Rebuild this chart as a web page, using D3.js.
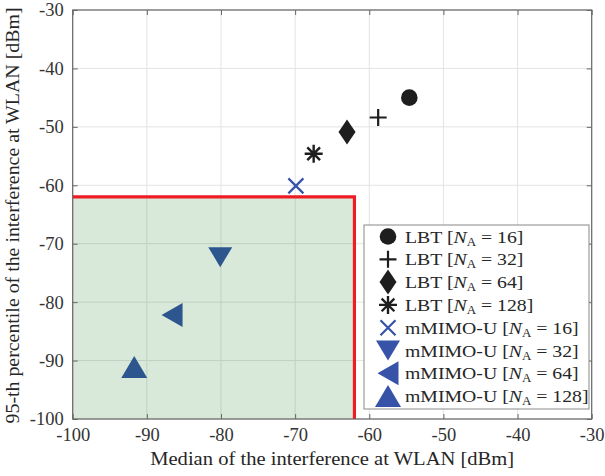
<!DOCTYPE html>
<html><head><meta charset="utf-8">
<script src="https://cdn.jsdelivr.net/npm/d3@7"></script>
<style>body{margin:0;background:#fff}svg{display:block}
svg text, .tick text{font-family:"Liberation Serif",serif !important;}
</style>
</head><body><svg id="c" width="605" height="476"></svg>
<script>
const xTicks=[-100,-90,-80,-70,-60,-50,-40,-30];
const yTicks=[-100,-90,-80,-70,-60,-50,-40,-30];
const labels=["LBT","LBT","LBT","LBT","mMIMO-U","mMIMO-U","mMIMO-U","mMIMO-U"];
const antennas=[16,32,64,128,16,32,64,128];
const markers=["circle","plus","diamond","asterisk","cross","down","left","up"];
const xVals=[-54.6,-58.8,-63.0,-67.5,-69.9,-80.1,-86.6,-91.7];
const yVals=[-45.0,-48.4,-50.9,-54.6,-60.1,-72.3,-82.2,-91.1];
const region=[-62,-62];

const FONT='"Liberation Serif",serif';
const svg=d3.select("#c");
const L=72.7,R=591.7,T=10,B=419;
const x=d3.scaleLinear().domain([-100,-30]).range([L,R]);
const y=d3.scaleLinear().domain([-100,-30]).range([B,T]);

const black="#1e1e1e", blue="#3653a8";
function markerPath(t){
  switch(t){
    case "circle": return {d:d3.symbol(d3.symbolCircle,Math.PI*8.3*8.3)(),fill:black};
    case "plus": return {d:"M-8.5,0H8.5M0,-8.5V8.5",stroke:black,sw:2.2};
    case "diamond": return {d:"M0,-12.5L8.5,0L0,12.5L-8.5,0Z",fill:black};
    case "asterisk": {const r=9;let p="";for(let i=0;i<4;i++){const a=i*Math.PI/4+Math.PI/2;p+=`M${(-r*Math.cos(a)).toFixed(2)},${(-r*Math.sin(a)).toFixed(2)}L${(r*Math.cos(a)).toFixed(2)},${(r*Math.sin(a)).toFixed(2)}`;}return {d:p,stroke:black,sw:2.4};}
    case "cross": return {d:"M-7.5,-7.5L7.5,7.5M-7.5,7.5L7.5,-7.5",stroke:blue,sw:2.2};
    case "down": return {d:"M-12,-10L12,-10L0,10Z",fill:blue};
    case "left": return {d:"M10.5,-12L10.5,12L-10.5,0Z",fill:blue};
    case "up": return {d:"M-13,11L13,11L0,-11Z",fill:blue};
  }
}
function drawMarker(g,t,cx,cy){
  const m=markerPath(t);
  g.append("path").attr("d",m.d).attr("transform",`translate(${cx},${cy})`)
   .attr("fill",m.fill||"none").attr("stroke",m.stroke||"none").attr("stroke-width",m.sw||0);
}

// grid
const grid=svg.append("g");
xTicks.forEach(v=>grid.append("line").attr("x1",x(v)).attr("x2",x(v)).attr("y1",T).attr("y2",B).attr("stroke","#e3e3e3").attr("stroke-width",1));
yTicks.forEach(v=>grid.append("line").attr("y1",y(v)).attr("y2",y(v)).attr("x1",L).attr("x2",R).attr("stroke","#e3e3e3").attr("stroke-width",1));

// markers
const pts=svg.append("g");
xVals.forEach((v,i)=>drawMarker(pts,markers[i],x(v),y(yVals[i])));

// green region overlay
svg.append("rect").attr("x",x(-100)).attr("y",y(region[1])).attr("width",x(region[0])-x(-100)).attr("height",y(-100)-y(region[1]))
  .attr("fill","rgb(0,105,0)").attr("fill-opacity",0.15);
svg.append("path").attr("d",`M${x(-100)},${y(region[1])}H${x(region[0])}V${y(-100)}`)
  .attr("fill","none").attr("stroke","#ee1c24").attr("stroke-width",3.2);

// axes box with inward ticks
const ax=svg.append("g");
ax.append("rect").attr("x",L).attr("y",T).attr("width",R-L).attr("height",B-T).attr("fill","none").attr("stroke","#666").attr("stroke-width",1.2);
const bottomAxis=d3.axisBottom(x).tickValues(xTicks).tickSize(-5).tickFormat(d=>String(d)).tickPadding(9);
const topAxis=d3.axisTop(x).tickValues(xTicks).tickSize(-5).tickFormat("");
const leftAxis=d3.axisLeft(y).tickValues(yTicks).tickSize(-5).tickFormat(d=>String(d)).tickPadding(9);
const rightAxis=d3.axisRight(y).tickValues(yTicks).tickSize(-5).tickFormat("");
function styleAx(g){g.select(".domain").remove();g.attr("font-family",FONT).attr("font-size",18.5);
  g.selectAll(".tick line").attr("stroke","#666");
  g.selectAll("text").attr("font-family",FONT).attr("fill","#333").style("font-size","18.5px");}
ax.append("g").attr("transform",`translate(0,${B})`).call(bottomAxis).call(styleAx);
ax.append("g").attr("transform",`translate(0,${T})`).call(topAxis).call(styleAx);
ax.append("g").attr("transform",`translate(${L},0)`).call(leftAxis).call(styleAx);
ax.append("g").attr("transform",`translate(${R},0)`).call(rightAxis).call(styleAx);

// axis titles
svg.append("text").attr("x",(L+R)/2).attr("y",465).attr("text-anchor","middle")
  .style("font-size","18px").style("fill","#262626")
  .attr("textLength",364).attr("lengthAdjust","spacingAndGlyphs")
  .text("Median of the interference at WLAN [dBm]");
svg.append("text").attr("transform",`translate(19,${(T+B)/2+1}) rotate(-90)`).attr("text-anchor","middle")
  .style("font-size","18px").style("fill","#262626")
  .attr("textLength",416).attr("lengthAdjust","spacingAndGlyphs")
  .text("95-th percentile of the interference at WLAN [dBm]");

// legend
const lg=svg.append("g");
lg.append("rect").attr("x",364).attr("y",225).attr("width",225).attr("height",184).attr("fill","#fff").attr("stroke","#888").attr("stroke-width",1);
labels.forEach((lab,i)=>{
  const cy=236.5+i*22.8;
  const t=markers[i];
  const lm=lg.append("g");
  drawMarker(lm,t,388,cy);
  const tx=lg.append("text").attr("transform",`translate(405,${cy+6}) scale(1.13,1)`)
    .style("font-size","17.5px").style("fill","#262626");
  tx.append("tspan").text(lab+" [");
  tx.append("tspan").attr("font-style","italic").text("N");
  tx.append("tspan").attr("font-size",11.5).attr("dy",3).text("A");
  tx.append("tspan").attr("dy",-3).text(" = "+antennas[i]+"]");
});
</script></body></html>
